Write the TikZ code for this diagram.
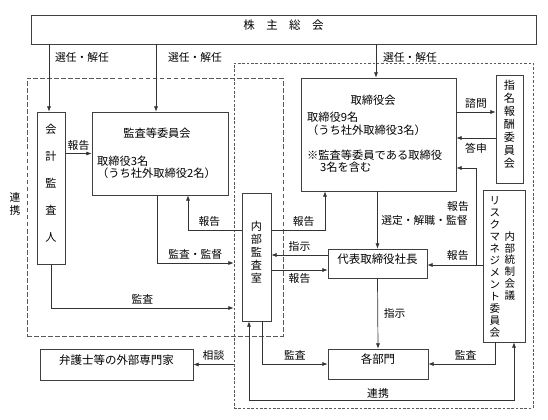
\documentclass[tikz,border=0pt]{standalone}
\usepackage{fontspec}
\setmainfont{Noto Sans CJK JP}
\usetikzlibrary{fit,arrows.meta}

\begin{document}
\begin{tikzpicture}[x=0.3mm, y=-0.3mm, >={Latex[length=4.5pt,width=3.5pt]},
  box/.style={draw=black!75, line width=0.6pt, inner sep=0pt, font=\fontsize{9.8}{11}\selectfont},
  vbox/.style={box, align=center, font=\fontsize{9.5}{11.1}\selectfont},
  line/.style={draw=black!80, line width=0.6pt},
  txt/.style={inner sep=0pt, font=\fontsize{9.6}{11}\selectfont},
  lbl/.style={inner sep=0pt, font=\fontsize{9.2}{10}\selectfont},
  group/.style={draw=black!65, line width=0.6pt, dash pattern=on 4pt off 2pt, inner sep=0pt}]

\useasboundingbox (0,0) rectangle (548,420);

% dashed groups
\node[group, fit={(27,78) (283,336)}] (gleft) {};
\node[group, dash pattern=on 2.2pt off 1.5pt, fit={(234,63) (533,408)}] (gright) {};

% boxes
\node[box, fit={(31,15) (536,44)}] (soukai) {株\hspace{1em}主\hspace{1em}総\hspace{1em}会};
\node[vbox, font=\fontsize{9.5}{23}\selectfont, fit={(37,112) (65,264)}] (kaikei) {会\\計\\監\\査\\人};
\node[box, fit={(92,112) (228,195)}] (kansa) {};
\node[box, fit={(301,78) (456,191)}] (torishimari) {};
\node[vbox, fit={(496,75) (523,183)}] (shimei) {指\\名\\報\\酬\\委\\員\\会};
\node[box, fit={(483,190) (525,342)}] (risk) {};
\node[vbox, fit={(242,193) (271,321)}] (naibu) {内\\部\\監\\査\\室};
\node[box, fit={(328,249) (427,278)}] (daihyo) {代表取締役社長};
\node[box, fit={(328,349) (428,379)}] (kakubu) {各部門};
\node[box, fit={(40,349) (193,380)}] (bengo) {弁護士等の外部専門家};

% texts inside boxes
\node[txt] (kansa-title) at (157,133) {監査等委員会};
\node[txt, anchor=west] (kansa-n) at (97,161) {取締役3名};
\node[txt, anchor=west] (kansa-o) at (97,173) {（うち社外取締役2名）};
\node[txt] (tori-title) at (373,100) {取締役会};
\node[txt, anchor=west] (tori-n) at (307,117) {取締役9名};
\node[txt, anchor=west] (tori-o) at (307,130) {（うち社外取締役3名）};
\node[txt, anchor=west] (tori-k1) at (307,155) {※監査等委員である取締役};
\node[txt, anchor=west] (tori-k2) at (320,167) {3名を含む};
\node[txt, align=center, font=\fontsize{9}{10.2}\selectfont] (risk-l) at (495,267)
  {リ\\ス\\ク\\マ\\ネ\\ジ\\メ\\ン\\ト\\委\\員\\会};
\node[txt, align=center, font=\fontsize{9}{10.2}\selectfont] (risk-r) at (510,266)
  {内\\部\\統\\制\\会\\議};
\node[lbl, align=center, font=\fontsize{9.2}{10.5}\selectfont] (renkei-l) at (15,204) {連\\携};

% election
\foreach \t/\x in {kaikei/49, kansa/156, torishimari/376}
  \draw[line, ->] (soukai.south -| \x,0) -- (\t.north -| \x,0);
\foreach \x [count=\i] in {82, 195, 410}
  \node[lbl] (sennin-\i) at (\x,57) {選任・解任};

% audit committee side
\draw[line, ->] (kaikei.east |- kansa.west) -- (kansa.west)
  node[lbl, above=2pt, midway] (hk-1) {報告};
\draw[line, ->] (kansa.south -| 157,0) |- (gright.west |- 0,263)
  node[lbl, pos=0.75, above=3pt] (kansa-kantoku) {監査・監督};
\draw[line, ->] (naibu.west |- 0,230) -| (kansa.south -| 188,0)
  node[lbl, pos=0.3, above=3pt] (hk-2) {報告};
\draw[line, ->] (kaikei.south) |- (gright.west |- 0,308)
  node[lbl, pos=0.75, above=3pt] (kansa-1) {監査};

% board side
\draw[line, ->] (naibu.east |- 0,230) -| (torishimari.south -| 325,0)
  node[lbl, pos=0.3, above=3pt] (hk-3) {報告};
\draw[line, ->] (daihyo.west |- 0,255) -- (naibu.east |- 0,255)
  node[lbl, midway, above=3pt] (shiji-1) {指示};
\draw[line, ->] (naibu.east |- 0,270) -- (daihyo.west |- 0,270)
  node[lbl, midway, below=3pt] (hk-4) {報告};
\draw[line, ->] (torishimari.south -| daihyo.north) -- (daihyo.north)
  node[lbl, midway, right=3pt] (sentei) {選定・解職・監督};
\draw[line, ->] (torishimari.east |- 0,112) -- (shimei.west |- 0,112)
  node[lbl, midway, above=3pt] (shimon) {諮問};
\draw[line, ->] (shimei.west |- 0,138) -- (torishimari.east |- 0,138)
  node[lbl, midway, below=4pt] (toushin) {答申};
\draw[line, ->] (risk.west |- 0,265) -- (daihyo.east |- 0,265)
  node[lbl, pos=0.45, above=4pt] (hk-5) {報告};
\draw[line, ->] (risk.west |- 0,265) -- ++(-6,0) |- (torishimari.east |- 0,168);
\node[lbl] (hk-6) at (458,206) {報告};

% departments
\draw[line, ->] (daihyo.south) -- (kakubu.north)
  node[lbl, midway, right=5pt] (shiji-2) {指示};
\draw[line, ->] (naibu.south -| 262,0) |- (kakubu.west)
  node[lbl, pos=0.75, above=3pt] (kansa-2) {監査};
\draw[line, ->] (risk.south -| 495,0) |- (kakubu.east)
  node[lbl, pos=0.72, above=3pt] (kansa-3) {監査};
\draw[line, <->] (naibu.south -| 249,0) |- (514,400) -- (risk.south -| 514,0);
\node[lbl] (renkei-b) at (378,393) {連携};
\draw[line, ->] (gright.west |- bengo.east) -- (bengo.east)
  node[lbl, midway, above=3pt] (soudan) {相談};

\end{tikzpicture}
\end{document}
